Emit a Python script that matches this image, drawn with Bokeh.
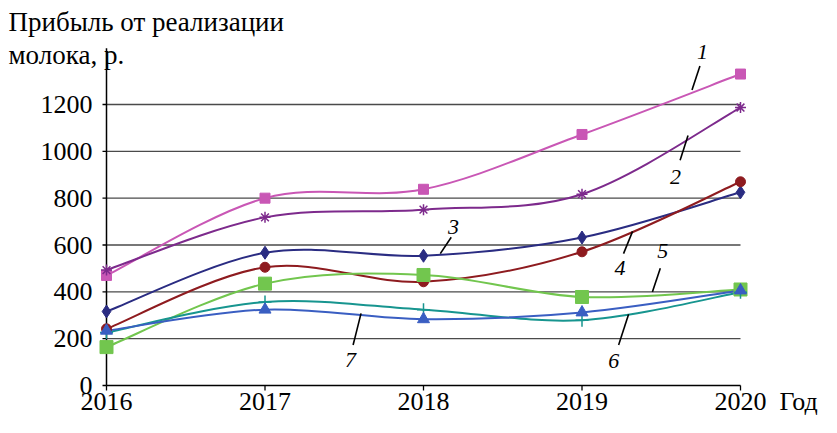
from bokeh.plotting import figure
from bokeh.models import Range1d, Label
from bokeh.embed import file_html
from bokeh.resources import INLINE

# ---- data ----
years = [2016, 2017, 2018, 2019, 2020]
s1 = [470, 800, 838, 1072, 1330]
s2 = [493, 718, 751, 817, 1187]
s3 = [316, 567, 554, 632, 825]
s4 = [242, 505, 443, 571, 870]
s5 = [164, 435, 472, 378, 410]
s6 = [226, 357, 324, 279, 398]
s7 = [234, 324, 283, 312, 406]
y_ticks = [0, 200, 400, 600, 800, 1000, 1200]
y_tick_labels = ["0", "200", "400", "600", "800", "1000", "1200"]
x_tick_labels = ["2016", "2017", "2018", "2019", "2020"]
series_names = ["1", "2", "3", "4", "5", "6", "7"]
y_title = ["Прибыль от реализации", "молока, р."]
x_title = "Год"

FONT = "Liberation Serif"
W, H = 821, 417
PX_YR = 158.5            # pixels per year
PX_UNIT = 281 / 1200.0   # pixels per profit unit
X0_PX, Y0_PX = 106, 385  # pixel position of (2016, 0)

x_start = years[0] - X0_PX / PX_YR
x_end = years[0] + (W - X0_PX) / PX_YR
y_end = Y0_PX / PX_UNIT
y_start = -(H - Y0_PX) / PX_UNIT

p = figure(width=W, height=H, output_backend="svg", toolbar_location=None,
           title=None, x_range=Range1d(x_start, x_end), y_range=Range1d(y_start, y_end),
           min_border=0, min_border_left=0, min_border_right=0,
           min_border_top=0, min_border_bottom=0)
p.outline_line_color = None
p.background_fill_color = "white"
p.border_fill_color = "white"
p.xaxis.visible = False
p.yaxis.visible = False
p.xgrid.visible = False
p.ygrid.visible = False

x_lo, x_hi = years[0], years[-1]
y_top = 1440

# horizontal grid lines
p.segment(x0=[x_lo] * (len(y_ticks) - 1), y0=y_ticks[1:], x1=[x_hi] * (len(y_ticks) - 1),
          y1=y_ticks[1:], line_color="#4a4a4a", line_width=1.3)
# axis lines
p.segment(x0=[x_lo], y0=[0], x1=[x_hi], y1=[0], line_color="black", line_width=1.5)
p.segment(x0=[x_lo], y0=[0], x1=[x_lo], y1=[y_top], line_color="black", line_width=1.5)
# ticks
ytick_len = 4 / PX_YR
xtick_len = 5 / PX_UNIT
p.segment(x0=[x_lo - ytick_len] * len(y_ticks), y0=y_ticks, x1=[x_lo] * len(y_ticks),
          y1=y_ticks, line_color="black", line_width=1.3)
p.segment(x0=years, y0=[0] * len(years), x1=years, y1=[-xtick_len] * len(years),
          line_color="black", line_width=1.3)


def smooth(ax, ay, color, width=2):
    n = len(ax)
    x0, y0, x1, y1, cx0, cy0, cx1, cy1 = [], [], [], [], [], [], [], []
    for i in range(n - 1):
        pm = i - 1 if i > 0 else i
        pp = i + 2 if i + 2 < n else i + 1
        x0.append(ax[i]); y0.append(ay[i])
        x1.append(ax[i + 1]); y1.append(ay[i + 1])
        cx0.append(ax[i] + (ax[i + 1] - ax[pm]) / 6)
        cy0.append(ay[i] + (ay[i + 1] - ay[pm]) / 6)
        cx1.append(ax[i + 1] - (ax[pp] - ax[i]) / 6)
        cy1.append(ay[i + 1] - (ay[pp] - ay[i]) / 6)
    p.bezier(x0=x0, y0=y0, x1=x1, y1=y1, cx0=cx0, cy0=cy0, cx1=cx1, cy1=cy1,
             line_color=color, line_width=width)


styles = [
    (s1, "#C957B5", "square", 10),
    (s2, "#7D2A8C", "asterisk", 11),
    (s3, "#2A2C82", "diamond", 13),
    (s4, "#8E1B1F", "circle", 10),
    (s5, "#72C64E", "square", 13),
    (s6, "#17958F", "cross", 13),
    (s7, "#3A5EC2", "triangle", 12),
]
for vals, col, mk, sz in styles:
    smooth(years, vals, col)
for vals, col, mk, sz in styles:
    if mk in ("asterisk", "cross"):
        p.scatter(years, vals, marker=mk, size=sz, line_color=col, line_width=1.5,
                  fill_color=None)
    else:
        p.scatter(years, vals, marker=mk, size=sz, line_color=col, fill_color=col)

# series number labels with leader lines (data coords)
lab_pos = [
    (2019.76, 1426), (2019.59, 892), (2018.19, 678), (2019.24, 501),
    (2019.51, 575), (2019.20, 103), (2017.54, 111),
]
leaders = [
    ((2019.744, 1364), (2019.694, 1262)),
    ((2019.669, 1068), (2019.619, 962)),
    ((2018.175, 633), (2018.106, 563)),
    ((2019.319, 658), (2019.262, 563)),
    ((2019.494, 501), (2019.444, 399)),
    ((2019.294, 304), (2019.231, 173)),
    ((2017.606, 308), (2017.556, 173)),
]
for name, (lx, ly), ((ax0, ay0), (ax1, ay1)) in zip(series_names, lab_pos, leaders):
    p.segment(x0=[ax0], y0=[ay0], x1=[ax1], y1=[ay1], line_color="black", line_width=1.6)
    p.add_layout(Label(x=lx, y=ly, text=name, text_font=FONT, text_font_size="22px",
                       text_font_style="italic", text_align="center",
                       text_baseline="middle", text_color="black"))

# y tick labels
ylab_x = x_lo - 14 / PX_YR
for v, t in zip(y_ticks, y_tick_labels):
    p.add_layout(Label(x=ylab_x, y=v, text=t, text_font=FONT, text_font_size="26px",
                       text_align="right", text_baseline="middle", text_color="black"))

# x tick labels
xlab_y = -16 / PX_UNIT
for yr, t in zip(years, x_tick_labels):
    p.add_layout(Label(x=yr, y=xlab_y, text=t, text_font=FONT, text_font_size="26px",
                       text_align="center", text_baseline="middle",
                       text_color="black"))
p.add_layout(Label(x=x_hi + 58 / PX_YR, y=xlab_y, text=x_title, text_font=FONT,
                   text_font_size="26px", text_align="center", text_baseline="middle",
                   text_color="black"))

# y-axis title (two lines)
title_x = x_lo - 98 / PX_YR
for i, line in enumerate(y_title):
    p.add_layout(Label(x=title_x, y=(Y0_PX - 21 - 33 * i) / PX_UNIT, text=line,
                       text_font=FONT, text_font_size="27px", text_align="left",
                       text_baseline="middle", text_color="black"))

open("out.html", "w").write(file_html(p, INLINE))
